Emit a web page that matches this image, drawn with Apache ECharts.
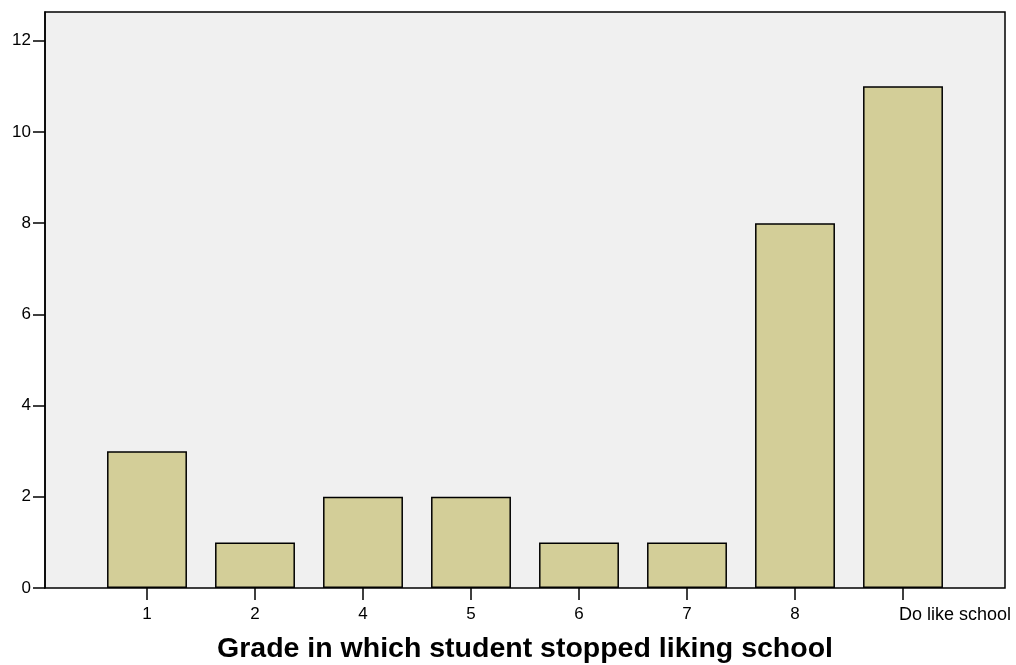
<!DOCTYPE html>
<html>
<head>
<meta charset="utf-8">
<script src="https://cdn.jsdelivr.net/npm/echarts@6/dist/echarts.min.js"></script>
<style>
    html, body { margin: 0; padding: 0; background: #fff; }
    #chart { width: 1016px; height: 665px; }
</style>
</head>
<body>
<div id="chart"></div>
<script>
const grades = ['1', '2', '4', '5', '6', '7', '8', 'Do like school']
const counts = [3, 1, 2, 2, 1, 1, 8, 11]
const yTicks = [0, 2, 4, 6, 8, 10, 12]
const yMax = 12.63

const myChart = echarts.init(document.getElementById('chart'))
const font = 'Liberation Sans, Arial, sans-serif'

myChart.setOption({
    animation: false,
    textStyle: { fontFamily: font },
    grid: [
        // outer frame, holds the y axis
        {
            left: 45, right: 11, top: 12, bottom: 77,
            outerBoundsMode: 'none',
            show: true,
            backgroundColor: '#f0f0f0',
            borderColor: '#000',
            borderWidth: 1.5
        },
        // inner band for the bars
        { left: 93, right: 59, top: 12, bottom: 77, outerBoundsMode: 'none' }
    ],
    xAxis: [
        {
            gridIndex: 0,
            type: 'value',
            min: 0,
            max: 1,
            axisLine: { show: false },
            axisTick: { show: false },
            axisLabel: { show: false },
            splitLine: { show: false },
            name: 'Grade in which student stopped liking school',
            nameLocation: 'middle',
            nameGap: 47,
            nameTextStyle: {
                color: '#000',
                fontSize: 28.5,
                fontWeight: 'bold',
                fontFamily: font
            }
        },
        {
            gridIndex: 1,
            type: 'category',
            data: grades.map((g, i) => i === grades.length - 1
                ? { value: g, textStyle: { align: 'left', fontSize: 18, padding: [0, 0, 0, -4] } }
                : g),
            axisLine: { show: false },
            axisTick: {
                show: true,
                interval: 0,
                alignWithLabel: true,
                length: 12,
                lineStyle: { color: '#000', width: 1.5 }
            },
            axisLabel: {
                color: '#000',
                fontSize: 17,
                interval: 0,
                margin: 18,
                fontFamily: font
            },
            splitLine: { show: false }
        }
    ],
    yAxis: [
        {
            gridIndex: 0,
            type: 'value',
            min: 0,
            max: yMax,
            axisLine: { show: true, lineStyle: { color: '#000', width: 1.5 } },
            axisTick: {
                show: true,
                length: 12,
                customValues: yTicks,
                lineStyle: { color: '#000', width: 1.5 }
            },
            axisLabel: {
                color: '#000',
                fontSize: 17,
                margin: 14,
                customValues: yTicks,
                fontFamily: font
            },
            splitLine: { show: false }
        },
        {
            gridIndex: 1,
            type: 'value',
            min: 0,
            max: yMax,
            show: false
        }
    ],
    series: [
        {
            type: 'bar',
            xAxisIndex: 1,
            yAxisIndex: 1,
            data: counts,
            barWidth: '74%',
            itemStyle: {
                color: '#d3ce98',
                borderColor: '#000',
                borderWidth: 1.5
            }
        }
    ]
})
</script>
</body>
</html>
